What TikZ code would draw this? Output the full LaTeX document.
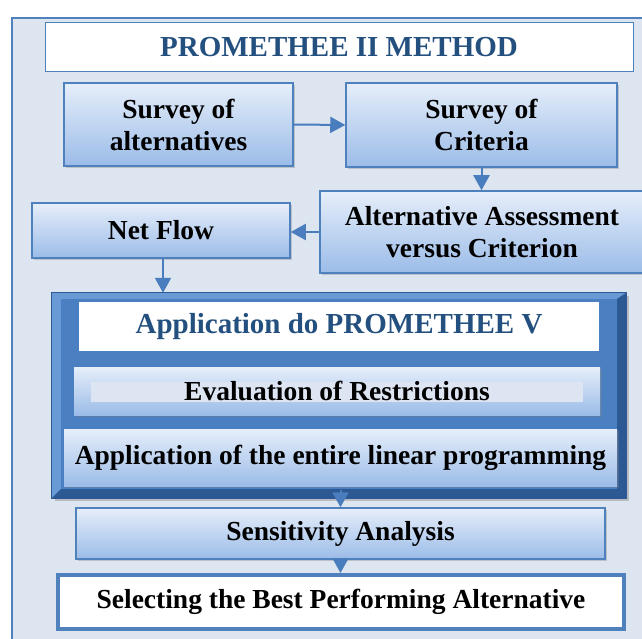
\documentclass[tikz,border=0pt]{standalone}
\usepackage{fontspec}
\setmainfont{Liberation Serif}
\usetikzlibrary{shadows,arrows.meta}
\definecolor{frameblue}{HTML}{4F81BD}
\definecolor{bgblue}{HTML}{DCE5F0}
\definecolor{boxtop}{HTML}{E6EEFA}
\definecolor{boxbot}{HTML}{9BBCE8}
\definecolor{titleblue}{HTML}{24507F}
\definecolor{pvdark}{HTML}{2C5893}
\definecolor{pvmid}{HTML}{4A7FC1}
\definecolor{pvlight}{HTML}{6A9AD6}
\definecolor{arrowblue}{HTML}{4A7DBD}
\definecolor{evalin}{HTML}{DCE5F1}
\tikzset{
  x=1pt, y=-1pt,
  txt/.style={font=\fontsize{27.5}{32}\selectfont\bfseries, align=center, text=black},
  gbox/.style={txt, draw=frameblue, line width=1.5pt, top color=boxtop, bottom color=boxbot,
    inner sep=0pt, drop shadow={opacity=0.35, shadow xshift=2pt, shadow yshift=-2pt}},
  wbox/.style={font=\fontsize{29}{32}\selectfont\bfseries, align=center, text=titleblue,
    fill=white, inner sep=0pt},
  conn/.style={draw=arrowblue, line width=2pt, -{Triangle[width=16pt,length=15pt]}}
}
\begin{document}
\begin{tikzpicture}
\useasboundingbox (0,0) rectangle (642,639);
\clip (0,0) rectangle (642,639);
% background
\fill[white] (0,0) rectangle (642,639);
\draw[draw=frameblue, fill=bgblue, line width=2pt] (12,18) rectangle (660,660);

% title
\node[wbox, draw=frameblue, line width=1pt, minimum width=588pt, minimum height=49pt] (title) at (339,47.5) {PROMETHEE II METHOD};

% first row
\node[gbox, minimum width=229pt, minimum height=83pt] (soa) at (178.5,124.5) {Survey of\\alternatives};
\node[gbox, minimum width=271pt, minimum height=84pt] (soc) at (481.5,125) {Survey of\\Criteria};
\node[gbox, minimum width=324pt, minimum height=82pt] (aav) at (482,232) {Alternative Assessment\\versus Criterion};
\node[gbox, minimum width=258pt, minimum height=55pt] (nf) at (161,230.5) {Net Flow};

% PROMETHEE V container with bevelled edge
\node[fill=pvmid, minimum width=574pt, minimum height=205pt, inner sep=0pt,
  drop shadow={opacity=0.4, shadow xshift=3pt, shadow yshift=-3pt}] (pv) at (339,395.5) {};
\fill[pvlight] (pv.north west) -- (pv.north east) -- ([xshift=-9pt,yshift=-6pt]pv.north east)
  -- ([xshift=9pt,yshift=-6pt]pv.north west) -- ([xshift=9pt,yshift=9pt]pv.south west) -- (pv.south west) -- cycle;
\fill[pvdark] (pv.south west) -- (pv.south east) -- (pv.north east) -- ([xshift=-9pt,yshift=-6pt]pv.north east)
  -- ([xshift=-9pt,yshift=9pt]pv.south east) -- ([xshift=9pt,yshift=9pt]pv.south west) -- cycle;
\draw[pvdark, line width=1pt] (pv.north west) rectangle (pv.south east);
\node[wbox, minimum width=520pt, minimum height=49pt] (pvt) at (339,326.5) {Application do PROMETHEE V};
\node[gbox, draw=none, minimum width=526pt, minimum height=48pt] (ev) at (337,391) {};
\fill[evalin] (91,382) rectangle (583,402);
\node[txt] (evt) at (ev.center) {Evaluation of Restrictions};
\node[gbox, draw=none, minimum width=553pt, minimum height=57pt] (lp) at (340.5,457.5) {Application of the entire linear programming};

% lower boxes
\node[gbox, minimum width=529pt, minimum height=51pt] (sa) at (340.5,533.5) {Sensitivity Analysis};
\node[txt, fill=white, draw=frameblue, line width=4pt, minimum width=566pt, minimum height=54pt, inner sep=0pt,
  drop shadow={opacity=0.3, shadow xshift=2pt, shadow yshift=-2pt}] (sel) at (341,602) {Selecting the Best Performing Alternative};

% connectors
\draw[conn] (soa.east) -- (soc.west);
\draw[conn] (soc.south) -- (soc.south |- aav.north);
\draw[conn] (aav.west) -- (aav.west -| nf.east);
\draw[conn] ([xshift=2pt]nf.south) -- ([xshift=2pt]nf.south |- pv.north);
\draw[conn] ([yshift=8pt]pv.south -| sa.north) -- (sa.north);
\draw[conn] (sa.south) -- (sa.south |- sel.north);
\end{tikzpicture}
\end{document}
